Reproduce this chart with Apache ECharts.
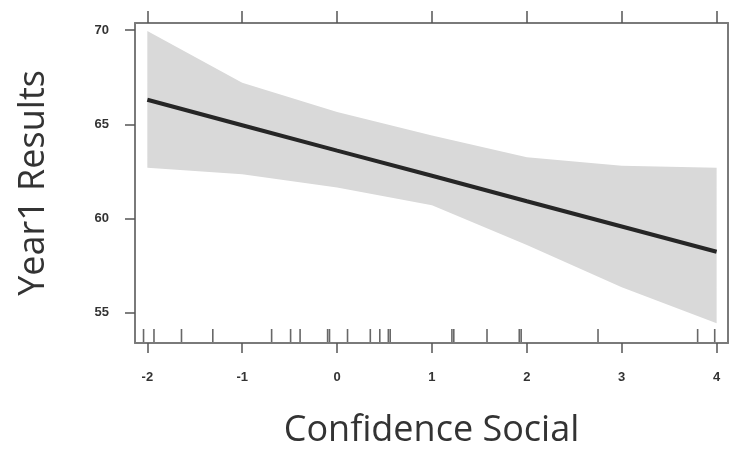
<!DOCTYPE html>
<html>
<head>
<meta charset="utf-8">
<script src="https://cdn.jsdelivr.net/npm/echarts@6/dist/echarts.min.js"></script>
<style>
  html, body { margin: 0; padding: 0; background: #fff; }
  #chart { width: 735px; height: 450px; }
</style>
</head>
<body>
<div id="chart"></div>
<script>
// Effect of social confidence on year-1 results: fitted line, confidence band, rug of observations
const xPoints = [-2, -1, 0, 1, 2, 3, 4];
const fitValues = [66.3, 64.95, 63.6, 62.27, 60.92, 59.58, 58.24];
const upperValues = [69.95, 67.2, 65.65, 64.4, 63.25, 62.8, 62.7];
const lowerValues = [62.7, 62.35, 61.65, 60.7, 58.6, 56.35, 54.45];
const rugValues = [-2.04, -1.93, -1.64, -1.31, -0.69, -0.49, -0.39, -0.10, -0.08,
                   0.11, 0.35, 0.45, 0.54, 0.56, 1.21, 1.23, 1.58, 1.92, 1.94,
                   2.75, 3.80, 3.98];
const xTicks = [-2, -1, 0, 1, 2, 3, 4];
const yTicks = [55, 60, 65, 70];

const X_MIN = -2.13, X_MAX = 4.12;
const Y_MIN = 53.4, Y_MAX = 70.37;

const frameColor = '#7a7a7a';
const tickColor = '#555';
const labelFont = { fontFamily: 'Liberation Sans', fontSize: 13, fontWeight: 'bold', color: '#333' };
const titleFont = { fontFamily: 'Open Sans', fontSize: 36, color: '#333' };

const chart = echarts.init(document.getElementById('chart'), null, { renderer: 'canvas' });

chart.setOption({
  animation: false,
  grid: { left: 135, right: 7, top: 23, bottom: 107, containLabel: false, outerBoundsMode: 'none' },
  xAxis: [
    {
      type: 'value', min: X_MIN, max: X_MAX, position: 'bottom',
      name: 'Confidence Social', nameLocation: 'middle', nameGap: 70,
      nameTextStyle: titleFont,
      axisLine: { show: true, onZero: false, lineStyle: { color: frameColor, width: 2 } },
      axisTick: { show: true, inside: false, length: 10, customValues: xTicks,
                  lineStyle: { color: tickColor, width: 1.5 } },
      axisLabel: { show: true, margin: 28, customValues: xTicks, ...labelFont },
      splitLine: { show: false }
    },
    {
      type: 'value', min: X_MIN, max: X_MAX, position: 'top',
      axisLine: { show: true, onZero: false, lineStyle: { color: frameColor, width: 2 } },
      axisTick: { show: true, inside: false, length: 12, customValues: xTicks,
                  lineStyle: { color: tickColor, width: 1.5 } },
      axisLabel: { show: false },
      splitLine: { show: false }
    }
  ],
  yAxis: [
    {
      type: 'value', min: Y_MIN, max: Y_MAX, position: 'left',
      name: 'Year1 Results', nameLocation: 'middle', nameGap: 83, nameRotate: 90,
      nameTextStyle: titleFont,
      axisLine: { show: true, onZero: false, lineStyle: { color: frameColor, width: 2 } },
      axisTick: { show: true, inside: false, length: 10, customValues: yTicks,
                  lineStyle: { color: tickColor, width: 1.5 } },
      axisLabel: { show: true, margin: 26, customValues: yTicks, ...labelFont },
      splitLine: { show: false }
    },
    {
      type: 'value', min: Y_MIN, max: Y_MAX, position: 'right',
      axisLine: { show: true, onZero: false, lineStyle: { color: frameColor, width: 2 } },
      axisTick: { show: false },
      axisLabel: { show: false },
      splitLine: { show: false }
    }
  ],
  series: [
    {
      // confidence band as a single polygon
      type: 'custom',
      xAxisIndex: 0, yAxisIndex: 0,
      data: [[xPoints[0], upperValues[0]]],
      silent: true,
      z: 1,
      renderItem: function (params, api) {
        const pts = [];
        for (let i = 0; i < xPoints.length; i++) pts.push(api.coord([xPoints[i], upperValues[i]]));
        for (let i = xPoints.length - 1; i >= 0; i--) pts.push(api.coord([xPoints[i], lowerValues[i]]));
        return { type: 'polygon', shape: { points: pts }, style: { fill: '#d9d9d9' } };
      }
    },
    {
      type: 'line',
      xAxisIndex: 0, yAxisIndex: 0,
      data: xPoints.map((x, i) => [x, fitValues[i]]),
      showSymbol: false,
      silent: true,
      z: 3,
      lineStyle: { color: '#262626', width: 4 }
    },
    {
      // rug of observed x values along the bottom
      type: 'custom',
      xAxisIndex: 0, yAxisIndex: 0,
      data: rugValues.map(v => [v, Y_MIN]),
      silent: true,
      z: 4,
      renderItem: function (params, api) {
        const p = api.coord([api.value(0), api.value(1)]);
        return {
          type: 'line',
          shape: { x1: p[0], y1: p[1] - 1, x2: p[0], y2: p[1] - 14 },
          style: { stroke: 'rgba(40,40,40,0.7)', lineWidth: 1.6 }
        };
      }
    }
  ]
});
</script>
</body>
</html>
